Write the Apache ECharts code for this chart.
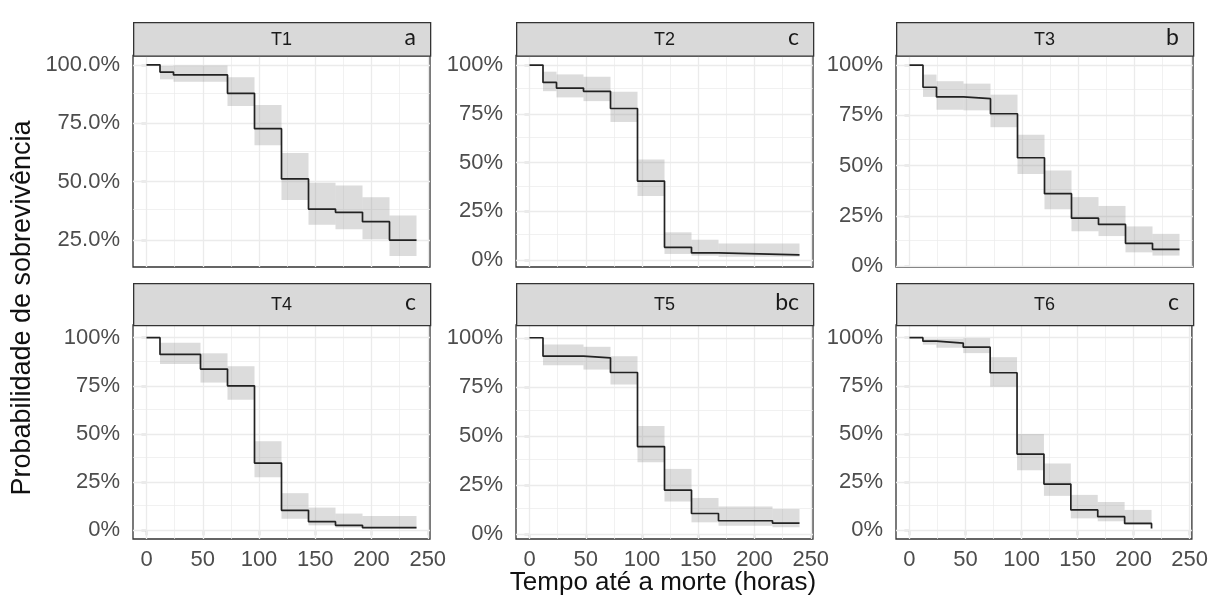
<!DOCTYPE html>
<html>
<head>
<meta charset="utf-8">
<script src="https://cdn.jsdelivr.net/npm/echarts@6/dist/echarts.min.js"></script>
<style>
  html, body { margin: 0; padding: 0; background: #fff; }
  #chart { width: 1211px; height: 608px; }
</style>
</head>
<body>
<div id="chart"></div>
<script>
// Kaplan-Meier survival by treatment, with confidence bands
const panelNames = ['T1', 'T2', 'T3', 'T4', 'T5', 'T6'];
const groupLetters = ['a', 'c', 'b', 'c', 'bc', 'c'];

const xTicks = [0, 50, 100, 150, 200, 250];
const xMinorTicks = [25, 75, 125, 175, 225];
const yTicks = [0, 0.25, 0.5, 0.75, 1];
const yMinorTicks = [0.125, 0.375, 0.625, 0.875];

// step times (h), survival after each step, and lower/upper confidence limits
const t1Time  = [0, 12, 24, 72, 96, 120, 144, 168, 192, 216, 240];
const t1Surv  = [1, 0.969, 0.957, 0.878, 0.727, 0.512, 0.383, 0.369, 0.329, 0.250, 0.250];
const t1Lower = [1, 0.938, 0.928, 0.824, 0.656, 0.422, 0.316, 0.297, 0.254, 0.182, 0.182];
const t1Upper = [1, 0.995, 0.997, 0.947, 0.828, 0.623, 0.495, 0.484, 0.433, 0.355, 0.355];

const t2Time  = [0, 12, 24, 48, 72, 96, 120, 144, 168, 240];
const t2Surv  = [1, 0.911, 0.882, 0.865, 0.777, 0.405, 0.065, 0.036, 0.026, 0.026];
const t2Lower = [1, 0.866, 0.834, 0.815, 0.708, 0.328, 0.031, 0.022, 0.017, 0.017];
const t2Upper = [1, 0.966, 0.952, 0.940, 0.863, 0.515, 0.142, 0.104, 0.085, 0.085];

const t3Time  = [0, 12, 24, 48, 72, 96, 120, 144, 168, 192, 216, 240];
const t3Surv  = [1, 0.890, 0.842, 0.833, 0.758, 0.539, 0.360, 0.238, 0.207, 0.113, 0.083, 0.083];
const t3Lower = [1, 0.842, 0.778, 0.775, 0.691, 0.458, 0.282, 0.173, 0.149, 0.068, 0.052, 0.052];
const t3Upper = [1, 0.953, 0.920, 0.908, 0.853, 0.653, 0.476, 0.343, 0.299, 0.197, 0.160, 0.160];

const t4Time  = [0, 12, 48, 72, 96, 120, 144, 168, 192, 240];
const t4Surv  = [1, 0.913, 0.837, 0.750, 0.349, 0.104, 0.045, 0.026, 0.014, 0.014];
const t4Lower = [1, 0.863, 0.767, 0.678, 0.275, 0.060, 0.026, 0.014, 0.008, 0.008];
const t4Upper = [1, 0.974, 0.919, 0.852, 0.462, 0.193, 0.118, 0.087, 0.075, 0.075];

const t5Time  = [0, 12, 48, 72, 96, 120, 144, 168, 216, 240];
const t5Surv  = [1, 0.906, 0.898, 0.823, 0.446, 0.224, 0.105, 0.068, 0.056, 0.056];
const t5Lower = [1, 0.860, 0.838, 0.762, 0.366, 0.166, 0.060, 0.043, 0.035, 0.035];
const t5Upper = [1, 0.966, 0.954, 0.906, 0.550, 0.332, 0.184, 0.140, 0.128, 0.128];

const t6Time  = [0, 12, 24, 48, 72, 96, 120, 144, 168, 192, 216];
const t6Surv  = [1, 0.982, 0.972, 0.951, 0.818, 0.396, 0.240, 0.106, 0.071, 0.036, 0.010];
const t6Lower = [1, 0.964, 0.948, 0.920, 0.746, 0.312, 0.179, 0.062, 0.047, 0.028, null];
const t6Upper = [1, 0.995, 0.995, 0.998, 0.899, 0.500, 0.347, 0.184, 0.147, 0.106, null];

// visible y range of each panel
const yMin = [0.135, -0.036, -0.005, -0.045, -0.025, -0.045];
const yMax = [1.040, 1.049, 1.048, 1.066, 1.065, 1.066];

const curves = [
  [t1Time, t1Surv, t1Lower, t1Upper],
  [t2Time, t2Surv, t2Lower, t2Upper],
  [t3Time, t3Surv, t3Lower, t3Upper],
  [t4Time, t4Surv, t4Lower, t4Upper],
  [t5Time, t5Surv, t5Lower, t5Upper],
  [t6Time, t6Surv, t6Lower, t6Upper]
];

// layout
const colLeft = [133, 516, 896];
const panelW = 297;
const rowTop = [55.5, 325];
const rowH = [211.5, 214];
const stripTop = [22, 283];

const FONT = '"Liberation Sans", Arial, sans-serif';
const gridColor = '#ebebeb';
const darkLine = '#333333';

const grids = [], xAxes = [], yAxes = [], series = [], graphics = [];

panelNames.forEach(function (name, i) {
  const col = i % 3, row = Math.floor(i / 3);
  const bottomRow = row === 1;
  const left = colLeft[col], top = rowTop[row], h = rowH[row];
  const [time, surv, lower, upper] = curves[i];

  grids.push({
    left: left, top: top, width: panelW, height: h,
    show: true, borderColor: darkLine, borderWidth: 1.3, backgroundColor: '#fff'
  });

  xAxes.push({
    type: 'value', gridIndex: i, min: -12, max: 252,
    splitLine: { show: false },
    axisLine: { show: false },
    axisTick: { show: bottomRow, customValues: xTicks, length: 5, lineStyle: { color: darkLine, width: 1.2 } },
    axisLabel: { show: bottomRow, customValues: xTicks, color: '#4d4d4d', fontSize: 22, fontFamily: FONT, margin: 10 }
  });

  const yVis = yTicks.filter(v => v >= yMin[i] && v <= yMax[i]);
  const yMinorVis = yMinorTicks.filter(v => v >= yMin[i] && v <= yMax[i]);
  yAxes.push({
    type: 'value', gridIndex: i, min: yMin[i], max: yMax[i],
    splitLine: { show: false },
    axisLine: { show: false },
    axisTick: { show: true, customValues: yVis, length: 5, lineStyle: { color: darkLine, width: 1.2 } },
    axisLabel: {
      show: true, customValues: yVis, color: '#4d4d4d', fontSize: 22, fontFamily: FONT, margin: 13,
      formatter: i === 0 ? (v => (v * 100).toFixed(1) + '%') : (v => Math.round(v * 100) + '%')
    }
  });

  // panel grid lines (major + minor), kept beneath bands and curve
  const gl = [];
  xMinorTicks.forEach(v => gl.push({ xAxis: v, lineStyle: { color: gridColor, width: 0.7, type: 'solid' } }));
  yMinorVis.forEach(v => gl.push({ yAxis: v, lineStyle: { color: gridColor, width: 0.7, type: 'solid' } }));
  xTicks.forEach(v => gl.push({ xAxis: v, lineStyle: { color: gridColor, width: 1.3, type: 'solid' } }));
  yVis.forEach(v => gl.push({ yAxis: v, lineStyle: { color: gridColor, width: 1.3, type: 'solid' } }));
  series.push({
    type: 'line', xAxisIndex: i, yAxisIndex: i, data: [], z: 1, silent: true,
    markLine: { z: 1, silent: true, symbol: ['none', 'none'], label: { show: false }, animation: false, data: gl }
  });

  // confidence band: one rectangle per step interval
  const band = [];
  for (let k = 1; k < time.length - 1; k++) {
    if (lower[k] == null) continue;
    band.push([time[k], time[k + 1], lower[k], upper[k]]);
  }
  series.push({
    type: 'custom', xAxisIndex: i, yAxisIndex: i, z: 6, silent: true,
    data: band,
    encode: { x: [0, 1], y: [2, 3] },
    renderItem: function (params, api) {
      const p0 = api.coord([api.value(0), api.value(3)]);
      const p1 = api.coord([api.value(1), api.value(2)]);
      return {
        type: 'rect',
        shape: { x: p0[0], y: p0[1], width: p1[0] - p0[0], height: p1[1] - p0[1] },
        style: { fill: 'rgba(150,150,150,0.33)' }
      };
    }
  });

  // survival step curve
  series.push({
    type: 'line', xAxisIndex: i, yAxisIndex: i, z: 8, silent: true,
    step: 'end', symbol: 'none',
    lineStyle: { color: '#222', width: 1.7 },
    data: time.map((t, k) => [t, surv[k]])
  });

  // facet strip
  const sTop = stripTop[row], sH = top - sTop;
  graphics.push({
    type: 'rect', left: left, top: sTop, z: 10,
    shape: { x: 0, y: 0, width: panelW, height: sH },
    style: { fill: '#d9d9d9', stroke: darkLine, lineWidth: 1.3 }
  });
  graphics.push({
    type: 'text', x: left + panelW / 2, y: sTop + sH / 2 + 1, z: 11,
    style: { text: name, font: '18px ' + FONT, fill: '#1a1a1a', textAlign: 'center', textVerticalAlign: 'middle' }
  });
  graphics.push({
    type: 'text', x: left + panelW - 14, y: sTop + sH / 2 - 1, z: 11,
    style: { text: groupLetters[i], font: '23px Lato, "Open Sans", sans-serif', fill: '#1a1a1a', textAlign: 'right', textVerticalAlign: 'middle' }
  });
});

// axis titles
graphics.push({
  type: 'text', x: 663, y: 583, z: 11,
  style: { text: 'Tempo até a morte (horas)', font: '26px ' + FONT, fill: '#111', textAlign: 'center', textVerticalAlign: 'middle' }
});
graphics.push({
  type: 'text', x: 23, y: 308, rotation: Math.PI / 2, z: 11,
  style: { text: 'Probabilidade de sobrevivência', font: '27px ' + FONT, fill: '#111', textAlign: 'center', textVerticalAlign: 'middle' }
});

const chart = echarts.init(document.getElementById('chart'), null, { renderer: 'canvas' });
chart.setOption({
  animation: false,
  backgroundColor: '#fff',
  grid: grids,
  xAxis: xAxes,
  yAxis: yAxes,
  series: series,
  graphic: { elements: graphics }
});
</script>
</body>
</html>
